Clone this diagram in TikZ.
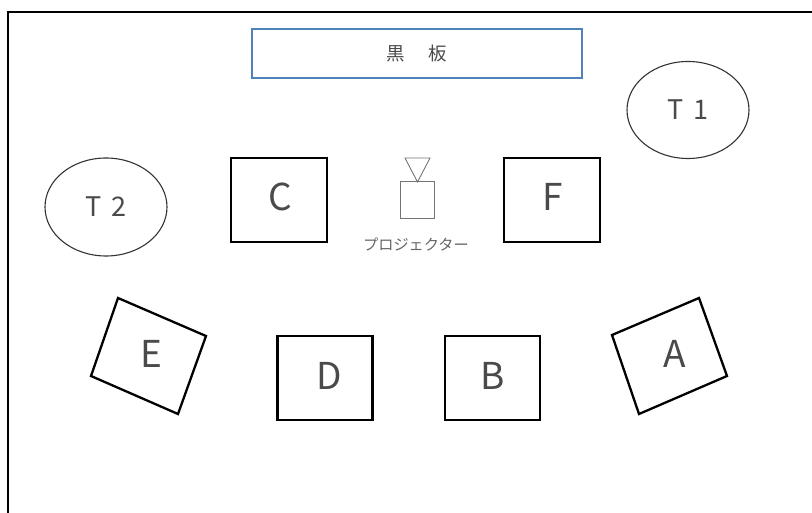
\documentclass[tikz,border=0pt]{standalone}
\usepackage{fontspec}
\usepackage{tikz}
\usepackage{xcolor}
\usetikzlibrary{shapes.geometric}
\newfontfamily\jpfont{Noto Sans CJK JP}
\definecolor{boardblue}{HTML}{4F81BD}
\definecolor{inkgray}{HTML}{4A4A4A}

\begin{document}
\begin{tikzpicture}[x=1pt,y=-1pt,
    seat/.style={draw=black, line width=2.3pt, line join=miter},
    teacher/.style={draw=black!80, line width=1.1pt},
    seatlabel/.style={text=inkgray, font=\jpfont\fontsize{37}{37}\selectfont, inner sep=0pt},
    teacherlabel/.style={text=inkgray, font=\jpfont\fontsize{27}{27}\selectfont, inner sep=0pt},
    projline/.style={draw=black!55, line width=0.9pt}]

    \useasboundingbox (0,0) rectangle (812,513);

    % Frame
    \draw[line width=2pt] (7.5,513) -- (7.5,12) -- (812,12);

    % Blackboard
    \node[draw=boardblue, line width=1.4pt, minimum width=330pt, minimum height=49pt,
        text=inkgray, font=\jpfont\fontsize{18.5}{19}\selectfont] (board) at (417,53.5) {黒\hspace{1.25em}板};

    % Teachers
    \node[teacher, ellipse, minimum width=122pt, minimum height=97pt, inner sep=0pt] (ellT1) at (688,110) {};
    \node[teacher, ellipse, minimum width=122pt, minimum height=98pt, inner sep=0pt] (ellT2) at (106,207) {};
    \node[teacherlabel] (labT1) at (688,110) {T\hspace{0.4em}1};
    \node[teacherlabel] (labT2) at (106,207) {T\hspace{0.4em}2};

    % Front seats
    \draw[seat] (231,158) rectangle (327,242);
    \draw[seat] (504,158) rectangle (600,242);
    \node[seatlabel] (labC) at (280,197) {C};
    \node[seatlabel] (labF) at (553,197) {F};

    % Back seats
    \draw[seat] (277.5,336) rectangle (372.5,420);
    \draw[seat] (445,336) rectangle (540,420);
    \node[seatlabel] (labD) at (329,376) {D};
    \node[seatlabel] (labB) at (493,376) {B};

    % Tilted seats
    \draw[seat] (118,298) -- (206,336) -- (178,414) -- (91,376) -- cycle;
    \draw[seat] (699,298) -- (727,376) -- (639,414) -- (612,335) -- cycle;
    \node[seatlabel] (labE) at (151,354) {E};
    \node[seatlabel] (labA) at (675,354) {A};

    % Projector
    \draw[projline] (405,158) -- (430,158) -- (417.5,182) -- cycle;
    \draw[projline] (400,181) rectangle (434,218);
    \node[text=black!60, font=\jpfont\fontsize{15.2}{16}\selectfont, inner sep=0pt] (labProj) at (416,245) {プロジェクター};

\end{tikzpicture}
\end{document}
